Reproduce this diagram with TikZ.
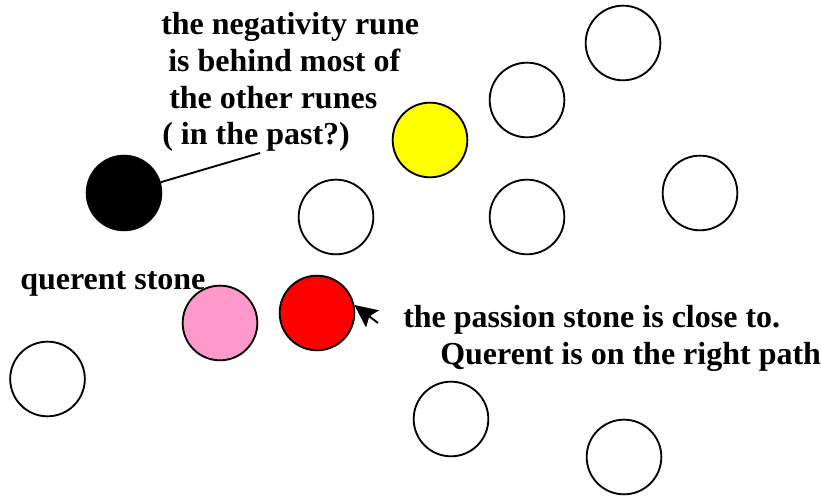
\documentclass[tikz,border=0pt]{standalone}
\usepackage{fontspec}
\setmainfont{Liberation Serif}
\usetikzlibrary{arrows.meta}
\definecolor{RuneYellow}{HTML}{FFFF00}
\definecolor{RunePink}{HTML}{FF99CC}
\definecolor{RuneRed}{HTML}{FF0000}

\begin{document}
\begin{tikzpicture}[x=0.75pt,y=0.75pt,
    rune/.style={circle,draw=black,line width=1.4pt,minimum size=56pt,inner sep=0pt},
    note/.style={font=\bfseries\fontsize{24pt}{27.5pt}\selectfont,inner sep=0pt,align=left}]
        \useasboundingbox (0,0) rectangle (821,499);
        % labels first, the stones lie on top
        \node[note,anchor=north west] (negtext) at (161,486.5) {the negativity rune\\
          \hspace*{5.25pt}is behind most of\\
          \hspace*{6pt}the other runes\\
          \hspace*{0.75pt}( in the past?)};
        \node[note,anchor=base west] (querent) at (20,209) {querent stone};
        \node[note,anchor=north west] (passtext) at (403,194) {the passion stone is close to.\\
          \hspace*{27.75pt}Querent is on the right path};
        % stones
        \node[rune] (top) at (623,456) {};
        \node[rune] (upper) at (527,399) {};
        \node[rune,fill=RuneYellow] (yellow) at (430,359) {};
        \node[rune,fill=black] (negative) at (124,306) {};
        \node[rune] (midleft) at (336,282) {};
        \node[rune] (midright) at (527,282) {};
        \node[rune] (far) at (700,306) {};
        \node[rune,fill=RunePink] (self) at (220,176) {};
        \node[rune,fill=RuneRed] (passion) at (317,186) {};
        \node[rune] (corner) at (47.5,120) {};
        \node[rune] (low) at (451,80) {};
        \node[rune] (lowest) at (624,42) {};
        % pointers
        \coordinate (negfoot) at (260,346);
        \coordinate (passfoot) at (378,176);
        \draw[line width=1.4pt] (negfoot) -- (negative);
        \draw[line width=1.4pt,-{Stealth[length=17pt,width=16pt,inset=3pt]}] (passfoot) -- (passion.12);
      \end{tikzpicture}
\end{document}
